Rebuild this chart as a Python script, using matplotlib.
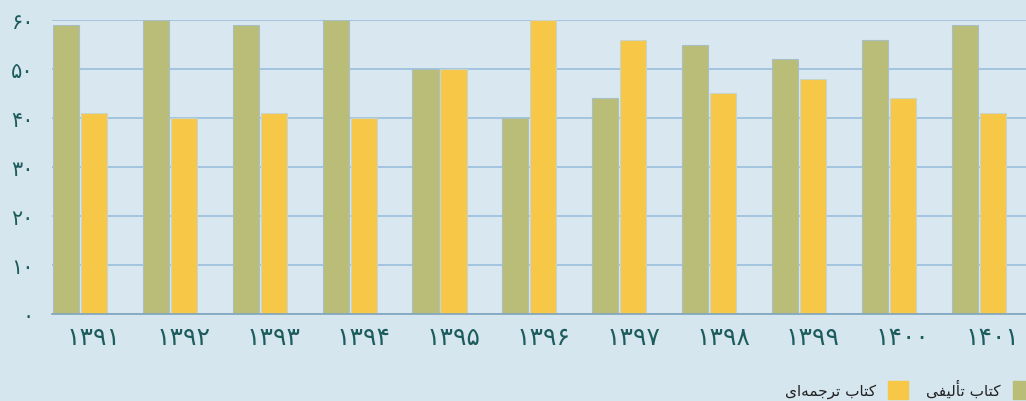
import matplotlib
matplotlib.use('Agg')
from matplotlib import pyplot as plt
from matplotlib.patches import Patch
import numpy as np

# years as shown (Persian digits)
years = ['۱۳۹۱', '۱۳۹۲', '۱۳۹۳', '۱۳۹۴', '۱۳۹۵', '۱۳۹۶',
         '۱۳۹۷', '۱۳۹۸', '۱۳۹۹', '۱۴۰۰', '۱۴۰۱']
authored = [59, 60, 59, 60, 50, 40, 44, 55, 52, 56, 59]
translated = [41, 40, 41, 40, 50, 60, 56, 45, 48, 44, 41]
y_ticks = [0, 10, 20, 30, 40, 50, 60]
y_labels = ['۰', '۱۰', '۲۰', '۳۰', '۴۰', '۵۰', '۶۰']

# legend labels, pre-shaped (presentation forms, visual order)
lbl_authored = '\uFBFD\uFED4\uFBFF\uFEDF\uFE84\uFE97 \uFE8F\uFE8E\uFE98\uFB90'
lbl_translated = '\uFBFC\uFE8D\uFEEA\uFEE4\uFE9F\uFEAE\uFE97 \uFE8F\uFE8E\uFE98\uFB90'

BG = '#d5e6ef'
GREEN = '#b9bd78'
YELLOW = '#f7c748'
TEXT = '#1d5c5c'

fig = plt.figure(figsize=(10.26, 4.02), dpi=100, facecolor=BG)
ax = fig.add_axes([52 / 1026, 1 - 315 / 402, 1 - 52 / 1026, (315 - 21) / 402])
ax.set_facecolor('#d9e8f0')

x = np.arange(len(years))
slot = 0.311
w = 0.29
ax.bar(x - slot, authored, w, color=GREEN, edgecolor='#a8c0c4', linewidth=0.8, zorder=3)
ax.bar(x, translated, w, color=YELLOW, edgecolor='#c8d4c8', linewidth=0.8, zorder=3)

ax.set_xlim(-0.467, 10.37)
ax.set_ylim(0, 60)
ax.set_yticks(y_ticks)
ax.set_yticklabels(y_labels, fontsize=15, color=TEXT)
ax.set_xticks(x)
ax.set_xticklabels(years, fontsize=18, color=TEXT)
ax.tick_params(axis='y', length=0, pad=13)
ax.tick_params(axis='x', length=0, pad=8)

ax.grid(axis='y', color='#93bbdc', linewidth=1.1, zorder=0)
ax.set_axisbelow(True)
for s in ['top', 'right', 'left']:
    ax.spines[s].set_visible(False)
ax.spines['bottom'].set_color('#7fa4bd')
ax.spines['bottom'].set_linewidth(1.2)
ax.spines['bottom'].set_zorder(4)

handles = [Patch(color=YELLOW), Patch(color=GREEN)]
fig.legend(handles, [lbl_translated, lbl_authored], ncol=2, markerfirst=False,
           loc='lower right', bbox_to_anchor=(1.0 + 16 / 1026, -7 / 402),
           frameon=False, fontsize=11, handlelength=1.3, handleheight=1.45,
           handletextpad=0.8, columnspacing=1.2, borderpad=0.1,
           labelcolor='#222222')

fig.savefig('out.png', dpi=100, facecolor=BG)
